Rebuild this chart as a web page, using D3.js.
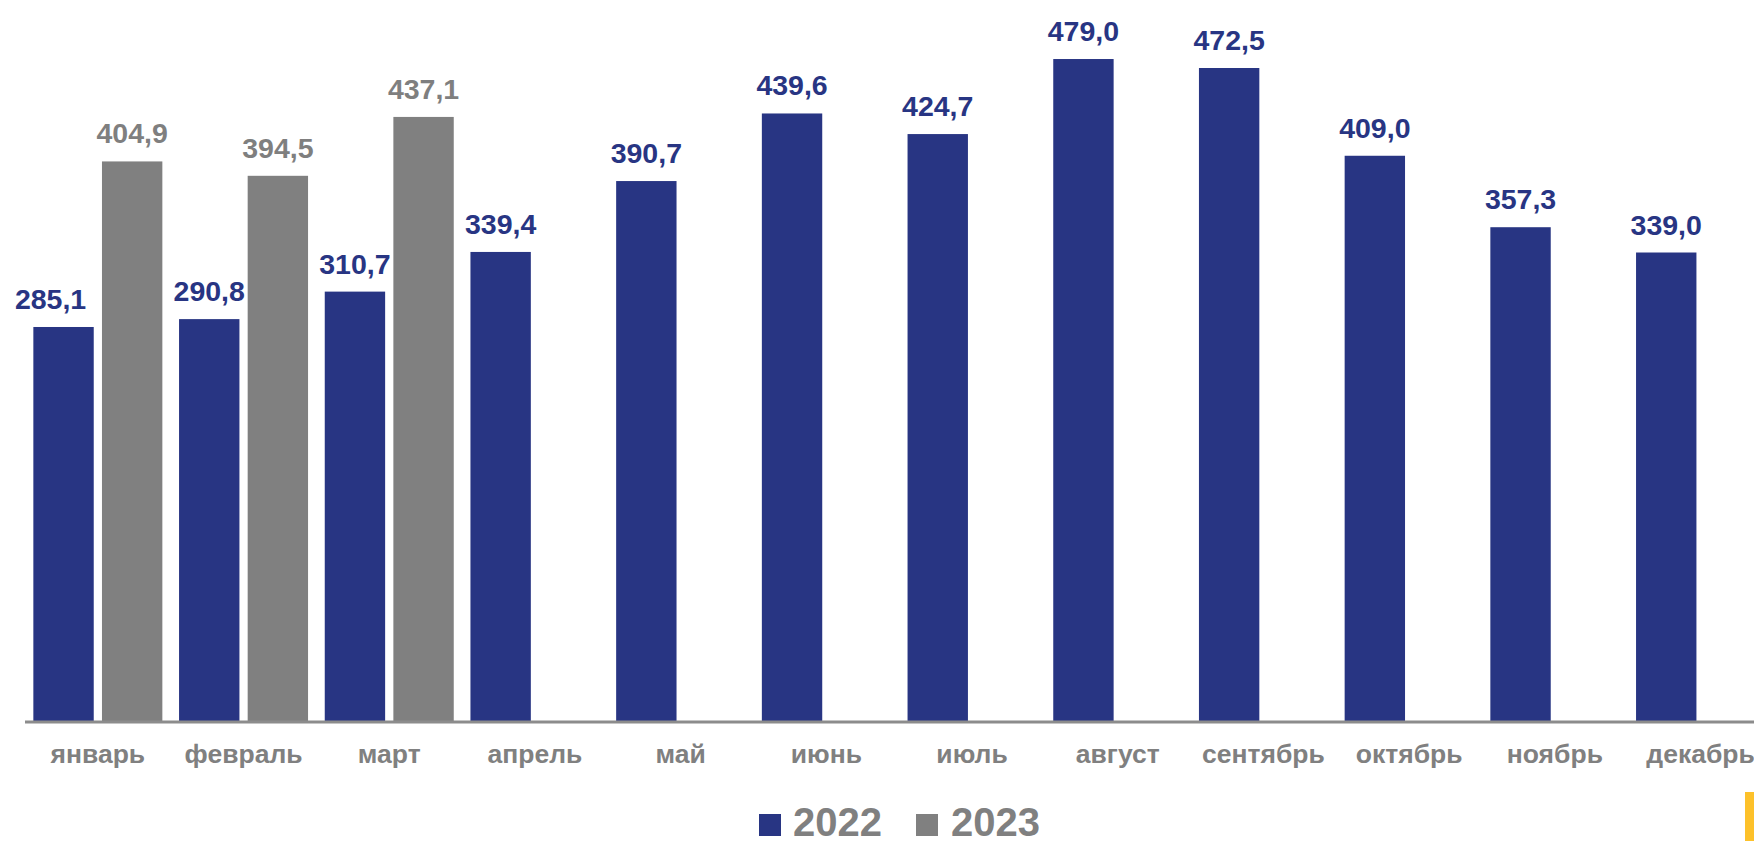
<!DOCTYPE html>
<html><head><meta charset="utf-8">
<script src="https://cdn.jsdelivr.net/npm/d3@7"></script>
<style>
html,body{margin:0;padding:0;background:#fff;overflow:hidden}
svg{display:block;font-family:"Liberation Sans",Arial,sans-serif}
</style></head>
<body>
<svg id="c" width="1754" height="841"></svg>
<script>
const months = ["январь","февраль","март","апрель","май","июнь","июль","август","сентябрь","октябрь","ноябрь","декабрь"];
const values2022 = [285.1,290.8,310.7,339.4,390.7,439.6,424.7,479.0,472.5,409.0,357.3,339.0];
const values2023 = [404.9,394.5,437.1,null,null,null,null,null,null,null,null,null];
const seriesNames = ["2022","2023"];
const colors = {"2022":"#283583","2023":"#808080"};
const labelColors = {"2022":"#283583","2023":"#7f7f7f"};

const svg = d3.select("#c");
const fmt = v => d3.format(".1f")(v).replace(".", ",");

const x = d3.scaleBand().domain(months).range([25, 1773.4]).paddingInner(0.1146).paddingOuter(0.0573);
const xs = d3.scaleBand().domain(seriesNames).range([0, x.bandwidth()]).paddingInner(0.12);
const y = d3.scaleLinear().domain([0, 500]).range([721, 30]);

const data = [];
months.forEach((m, i) => {
  data.push({m, s: "2022", v: values2022[i], i});
  if (values2023[i] != null) data.push({m, s: "2023", v: values2023[i], i});
});

svg.append("g").selectAll("rect").data(data).join("rect")
  .attr("x", d => x(d.m) + xs(d.s))
  .attr("y", d => y(d.v))
  .attr("width", xs.bandwidth())
  .attr("height", d => y(0) - y(d.v))
  .attr("fill", d => colors[d.s]);

// axis line
svg.append("line").attr("x1", 25).attr("x2", 1754).attr("y1", 722).attr("y2", 722)
  .attr("stroke", "#8c8c8c").attr("stroke-width", 3);

// value labels
svg.append("g").selectAll("text").data(data).join("text")
  .attr("x", d => x(d.m) + xs(d.s) + xs.bandwidth()/2 + (d.i === 0 && d.s === "2022" ? -13 : 0))
  .attr("y", d => y(d.v) - 18)
  .attr("text-anchor", "middle")
  .attr("font-size", 28.5).attr("font-weight", "bold")
  .attr("fill", d => labelColors[d.s])
  .text(d => fmt(d.v));

// category labels
const ax = svg.append("g").attr("transform", "translate(0,722)")
  .call(d3.axisBottom(x).tickSize(0).tickPadding(0));
ax.select(".domain").remove();
ax.selectAll("text").attr("y", 41).attr("dy", 0)
  .attr("font-size", 26.5).attr("font-weight", "bold")
  .attr("fill", "#808080").style("font-family", "'Liberation Sans',Arial,sans-serif");

// legend
const legend = svg.append("g");
const legendItems = [{s:"2022", x:759, tx:793},{s:"2023", x:916, tx:951}];
legend.selectAll("rect").data(legendItems).join("rect")
  .attr("x", d => d.x).attr("y", 814).attr("width", 22).attr("height", 22)
  .attr("fill", d => colors[d.s]);
legend.selectAll("text").data(legendItems).join("text")
  .attr("x", d => d.tx).attr("y", 836)
  .attr("font-size", 40).attr("font-weight", "bold").attr("fill", "#808080")
  .text(d => d.s);

// decorative yellow corner
svg.append("rect").attr("x", 1745).attr("y", 792).attr("width", 9).attr("height", 49).attr("fill", "#fdc12a");
</script>
</body></html>
